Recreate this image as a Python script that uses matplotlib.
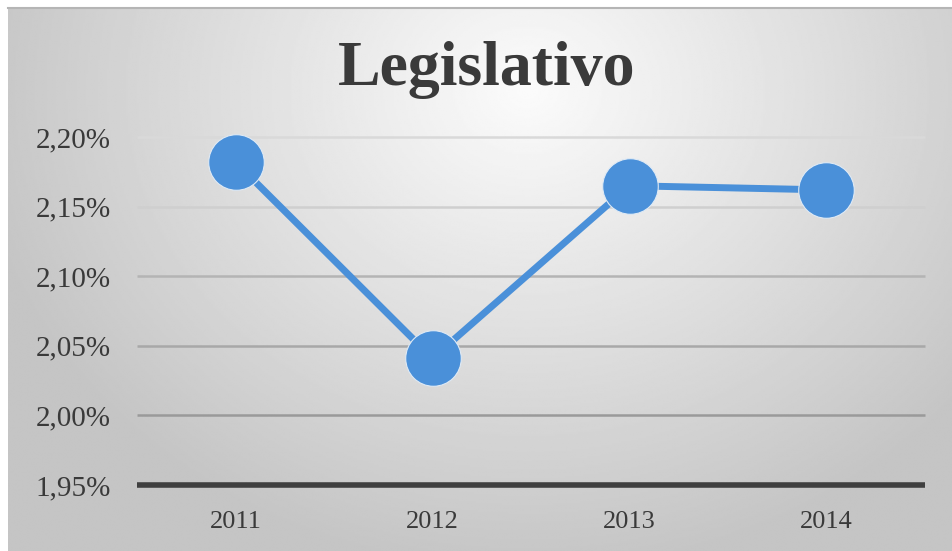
import numpy as np
import matplotlib.pyplot as plt
from matplotlib.ticker import FuncFormatter

# 数据
years = ['2011', '2012', '2013', '2014']
valores = [2.182, 2.041, 2.165, 2.162]
y_ticks = [1.95, 2.00, 2.05, 2.10, 2.15, 2.20]
titulo = 'Legislativo'

serif = ['Liberation Serif', 'DejaVu Serif']

fig = plt.figure(figsize=(9.53, 5.51), dpi=100)

# 背景径向渐变
bg = fig.add_axes([8 / 953, 0, 945 / 953, 543 / 551])
bg.set_axis_off()
yy, xx = np.mgrid[0:1:300j, 0:1:500j]
r = np.sqrt(((xx - 0.55) * 1.5) ** 2 + ((yy - 0.15) * 1.0) ** 2)
shade = np.clip(0.985 - 0.24 * r, 0.77, 1.0)
bg.imshow(shade, cmap='gray', vmin=0, vmax=1, aspect='auto',
          extent=[0, 1, 1, 0], interpolation='bilinear')
bg.set_xlim(0, 1)
bg.set_ylim(1, 0)
# 顶部边框
fig.add_artist(plt.Line2D([8 / 953, 1], [1 - 8 / 551, 1 - 8 / 551],
                          color='#b5b5b5', lw=1.5, transform=fig.transFigure))

ax = fig.add_axes([137 / 953, 1 - 485 / 551, (925 - 137) / 953, (485 - 137) / 551])
ax.patch.set_alpha(0)
x = np.arange(len(years))
ax.set_xlim(-0.5, len(years) - 0.5)
ax.set_ylim(1.95, 2.20)

grid_cols = ['#3f3f3f', '#9a9a9a', '#a8a8a8', '#b4b4b4', '#cfcfcf', '#d9d9d9']
for v, c in zip(y_ticks, grid_cols):
    ax.axhline(v, color=c, lw=4 if v == y_ticks[0] else 1.8, zorder=1,
               solid_capstyle='butt', clip_on=False)

ax.plot(x, valores, color='#4a90d9', lw=5, marker='o', markersize=40,
        markeredgecolor='#dfeaf5', markeredgewidth=0.8, zorder=3, clip_on=False)

for s in ax.spines.values():
    s.set_visible(False)
ax.set_xticks(x)
ax.set_xticklabels(years)
ax.set_yticks(y_ticks)
ax.yaxis.set_major_formatter(FuncFormatter(lambda v, p: f'{v:.2f}%'.replace('.', ',')))
ax.tick_params(length=0, colors='#404040')
ax.tick_params(axis='y', pad=19)
ax.tick_params(axis='x', pad=19)
for lab in ax.get_yticklabels():
    lab.set_family(serif)
    lab.set_fontsize(21)
    lab.set_color('#3a3a3a')
for lab in ax.get_xticklabels():
    lab.set_family(serif)
    lab.set_fontsize(19)
    lab.set_color('#3a3a3a')

fig.text(487 / 953, 1 - 70 / 551, titulo, ha='center', va='center',
         fontsize=46, fontweight='bold', family=serif, color='#3a3a3a')

fig.savefig('out.png', dpi=100, facecolor='white')
